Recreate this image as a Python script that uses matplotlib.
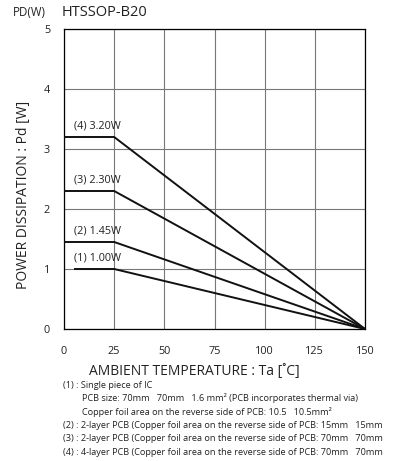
import matplotlib
matplotlib.use("Agg")
import matplotlib.pyplot as plt

plt.rcParams['font.family'] = ['Open Sans', 'DejaVu Sans']

# Data
labels = ["(1) 1.00W", "(2) 1.45W", "(3) 2.30W", "(4) 3.20W"]
pd_max = [1.00, 1.45, 2.30, 3.20]
t_start = [5, 0, 0, 0]
t_knee = 25
t_end = 150
x_ticks = [0, 25, 50, 75, 100, 125, 150]
y_ticks = [0, 1, 2, 3, 4, 5]
notes = [
    ("(1) : Single piece of IC", 0),
    ("PCB size: 70mm   70mm   1.6 mm\u00b2 (PCB incorporates thermal via)", 1),
    ("Copper foil area on the reverse side of PCB: 10.5   10.5mm\u00b2", 1),
    ("(2) : 2-layer PCB (Copper foil area on the reverse side of PCB: 15mm   15mm", 0),
    ("(3) : 2-layer PCB (Copper foil area on the reverse side of PCB: 70mm   70mm", 0),
    ("(4) : 4-layer PCB (Copper foil area on the reverse side of PCB: 70mm   70mm", 0),
]

fig = plt.figure(figsize=(3.93, 4.61), dpi=100)
W, H = 393, 461
ax = fig.add_axes([64 / W, 1 - 329 / H, (365 - 64) / W, (329 - 29) / H])
ax.set_xlim(0, 150)
ax.set_ylim(0, 5)
ax.set_xticks(x_ticks)
ax.set_yticks(y_ticks)
ax.tick_params(length=0, labelsize=7.8, colors='#222222')
ax.tick_params(axis='x', pad=12)
ax.tick_params(axis='y', pad=10)
ax.grid(True, color='#777777', linewidth=0.8)
ax.set_axisbelow(True)
for s in ax.spines.values():
    s.set_color('black')
    s.set_linewidth(0.9)

for lab, p, ts in zip(labels, pd_max, t_start):
    ax.plot([ts, t_knee, t_end], [p, p, 0], color='#111111', linewidth=1.4,
            solid_capstyle='butt', clip_on=False, zorder=3)
    ax.text(5, p + 0.1, lab, fontsize=7.8, color='#222222', va='bottom', ha='left')

fig.text(194 / W, 1 - 371 / H, "AMBIENT TEMPERATURE : Ta [\u02daC]", fontsize=10,
         color='#222222', va='center', ha='center')
fig.text(24 / W, 1 - 195 / H, "POWER DISSIPATION : Pd [W]", fontsize=10,
         color='#222222', va='center', ha='center', rotation=90)

fig.text(13 / W, 1 - 13 / H, "PD(W)", fontsize=8.3, color='#222222', va='center', ha='left')
fig.text(62 / W, 1 - 13 / H, "HTSSOP-B20", fontsize=10.5, color='#222222', va='center', ha='left')

y0 = 385
for i, (line, ind) in enumerate(notes):
    fig.text((63 + 19 * ind) / W, 1 - (y0 + i * 13.4) / H, line, fontsize=6.6,
             color='#222222', va='center', ha='left')

fig.savefig("out.png", dpi=100)
